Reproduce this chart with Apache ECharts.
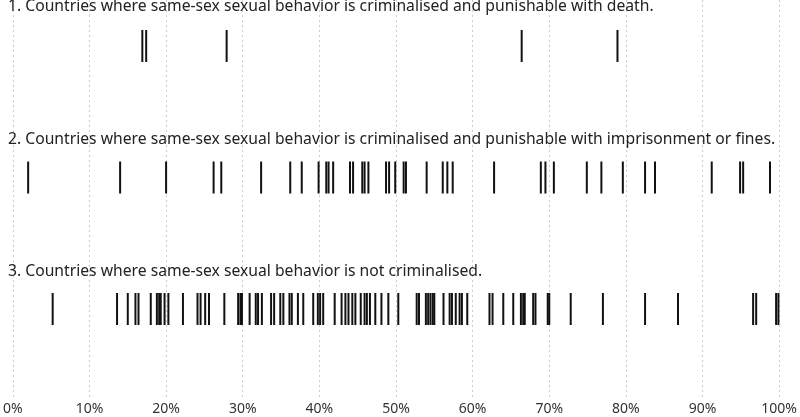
<!DOCTYPE html>
<html>
<head>
<meta charset="utf-8">
<script src="https://cdn.jsdelivr.net/npm/echarts@6/dist/echarts.min.js"></script>
<style>html,body{margin:0;padding:0;background:#fff}#c{width:800px;height:417px}</style>
</head>
<body>
<div id="c"></div>
<script>
var titles = [
  "1. Countries where same-sex sexual behavior is criminalised and punishable with death.",
  "2. Countries where same-sex sexual behavior is criminalised and punishable with imprisonment or fines.",
  "3. Countries where same-sex sexual behavior is not criminalised."
];
var deathValues = [16.9, 17.4, 27.9, 66.4, 78.9];
var prisonValues = [2.0, 14.0, 20.0, 26.2, 27.2, 32.4, 36.2, 37.7, 39.9, 40.9, 41.2, 41.8, 44.0, 44.4, 45.6, 45.9, 46.4, 48.7, 49.1, 49.9, 51.0, 51.3, 54.0, 56.1, 56.7, 57.4, 62.8, 68.9, 69.5, 70.6, 74.9, 76.8, 79.6, 82.5, 83.8, 91.2, 94.9, 95.3, 98.8];
var legalValues = [5.2, 13.6, 15.0, 16.0, 16.4, 18.0, 18.8, 19.1, 19.3, 19.8, 20.3, 22.2, 24.1, 24.5, 25.1, 25.6, 27.6, 29.4, 29.7, 29.9, 30.9, 31.7, 32.0, 32.5, 33.7, 34.1, 34.9, 35.3, 36.1, 36.4, 37.2, 37.9, 39.2, 39.8, 40.1, 40.5, 42.0, 42.9, 43.4, 43.8, 44.3, 44.7, 45.4, 45.9, 46.2, 46.6, 47.3, 48.1, 49.0, 50.3, 52.7, 53.0, 53.9, 54.2, 54.5, 54.8, 55.0, 56.2, 57.0, 57.3, 57.8, 58.3, 58.6, 59.3, 62.2, 62.6, 64.0, 65.3, 66.3, 66.6, 66.8, 67.9, 68.2, 69.8, 70.0, 72.8, 77.0, 82.5, 86.8, 96.6, 97.0, 99.6, 99.9];
var xTicks = [0, 10, 20, 30, 40, 50, 60, 70, 80, 90, 100];

var rows = [deathValues, prisonValues, legalValues];
var FONT = "'Noto Sans', sans-serif";

var chart = echarts.init(document.getElementById('c'), null, {renderer: 'canvas'});
var series = rows.map(function (vals, i) {
  return {
    type: 'scatter',
    symbol: 'rect',
    symbolSize: [2, 32],
    silent: true,
    itemStyle: {color: '#111', opacity: 1},
    data: vals.map(function (v) { return [v, i]; })
  };
});
var titleOpts = titles.map(function (t, i) {
  return {
    text: t, left: 8, top: [-1, 132, 264][i], padding: 0,
    textStyle: {fontFamily: FONT, fontSize: 15.7, fontWeight: 'normal', color: '#222'}
  };
});
chart.setOption({
  animation: false,
  title: titleOpts,
  grid: {left: 9.2, right: 20.1, top: 0, bottom: 19},
  xAxis: {
    type: 'value', min: 0, max: 100, interval: 10,
    axisLine: {show: false}, axisTick: {show: false},
    splitLine: {show: true, lineStyle: {type: [2, 3], color: '#cccccc', width: 1}},
    axisLabel: {
      margin: 4, fontFamily: FONT, fontSize: 14, color: '#333',
      formatter: function (v) { return xTicks.indexOf(v) >= 0 ? v + '%' : ''; }
    }
  },
  yAxis: {
    type: 'value', inverse: true, min: -0.35, max: 2.677,
    show: false, splitLine: {show: false}
  },
  series: series
});
</script>
</body>
</html>
